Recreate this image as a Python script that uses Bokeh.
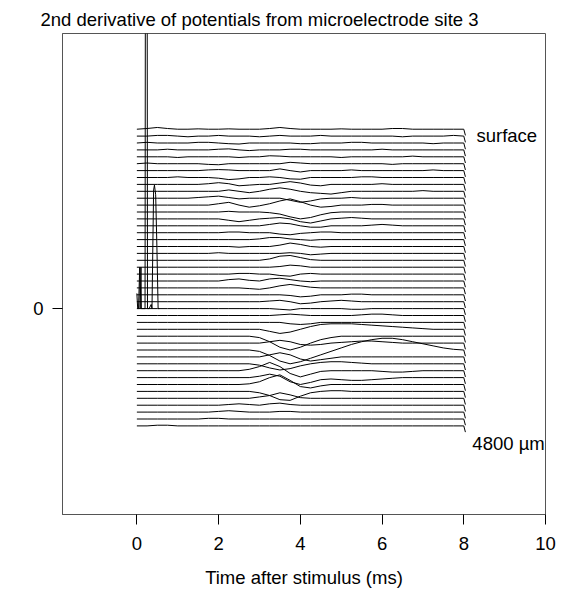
from bokeh.plotting import figure
from bokeh.models import ColumnDataSource, FixedTicker, Label, Range1d
from bokeh.embed import file_html
from bokeh.resources import INLINE

# ---------------- data ----------------
TITLE = "2nd derivative of potentials from microelectrode site 3"
X_LABEL = "Time after stimulus (ms)"
X_TICKS = [0, 2, 4, 6, 8, 10]
Y_TICKS = [0]
TOP_LABEL = "surface"
BOTTOM_LABEL = "4800 \u00b5m"

# sample times (ms) of every trace
TIMES = [0.0, 0.25, 0.5, 0.75, 1.0, 1.25, 1.5, 1.75, 2.0, 2.25, 2.5, 2.75,
         3.0, 3.25, 3.5, 3.75, 4.0, 4.25, 4.5, 4.75, 5.0, 5.25, 5.5, 5.75,
         6.0, 6.25, 6.5, 6.75, 7.0, 7.25, 7.5, 7.75, 8.0]
END_TIME = 8.04      # final short drop of every trace
END_DROP = -0.9

# baseline of each trace (surface first), in trace-spacing units
OFFSETS = [26, 25, 24, 23, 22, 21, 20, 19, 18, 17, 16, 15, 14, 13, 12, 11,
           10, 9, 8, 7, 6, 5, 4, 3, 2, 1, 0, -1, -2, -3, -4, -5, -6, -7,
           -8, -9, -10, -11, -12, -13, -14, -15, -16, -17]

# deflection of each trace around its baseline
TRACES = [
 [0,0.1,0.25,0.1,0,0,0.05,0,0,0.05,0,0,0,0.1,0.25,0.1,0,0,0,0,0.05,0,0,0,0,0.1,0.1,0,0,0,0,0,0],
 [0,0,0.1,0.1,0,-0.1,0,0,0.1,0,0,0,-0.1,0,0.1,0,0,0,0.1,0,0,0,0,0,0,0,-0.1,0,0,0,0,0.1,0],
 [0,0.1,0,0,0,0,0.1,0.1,0,-0.1,-0.15,0,0,0,0,0,-0.1,-0.1,0,0,0,0.1,0.1,0,0,0,0,0,0,-0.1,0,0,0],
 [0,0,0,0.1,0,0,0,0,0.1,0.15,0,-0.1,0,0,0,0.1,0.1,0,0,0,0,0,0,0,0.1,0,0,0,0,0,0,0,0],
 [0,0,0,0,-0.1,0,0,0,0,0,-0.1,0,0,0.15,0.1,0,0,0,0,0,-0.1,0,0,0,0,0,0,0.1,0,0,0,0,0],
 [0,0.1,0,0,0,0,0,-0.1,-0.15,0,0,0,0,0,0,0.2,0.1,0,0,0,0,0,0,0,0,-0.1,0,0,0,0,0,0,0],
 [0,0,0,0,0,0,0,0.1,0.15,0.1,0,0,0,0,0.25,0,-0.2,0,0,0,0,0.1,0,0,0,0,0,0,0,0.1,0,0,0],
 [0,0,0,0,0.1,0,0,0,-0.1,-0.3,-0.2,0,0,0.1,0,-0.2,-0.25,0,0,0,0,0,0.1,0.1,0,0,0,0,0,0,0,0,0],
 [0,0,0,0,0,0,0,0.1,0.25,0.1,-0.2,-0.1,0,0,0.2,0.4,0.2,-0.1,-0.2,0,0,0,0,0,0.1,0,0,0,0,0,0,0,0],
 [0,0,0,0,0,0,0,0,0,0.2,0,-0.2,0,0.3,0.5,0.3,0,-0.2,-0.3,-0.4,-0.2,0,0,0,0,0,0,0,0.1,0,0,0,0],
 [0,0,0,0,0,0,0.1,0.2,0.3,0.1,-0.1,0,0,0,0,-0.3,-0.6,-0.4,-0.1,0,0,0.1,0,0,0,0,0,0,0,0,0,0,0],
 [0,0,0,0,0,0,0,0,0.2,0.4,0,-0.3,-0.1,0.2,0.6,0.9,0.5,0,-0.3,-0.2,0,0,0,0.1,0.1,0,0,0,0,0,0,0,0],
 [0,0,0,0,0,0,0,0,0,0.1,0,0,0,-0.1,-0.3,-0.7,-1.0,-0.8,-0.4,-0.1,0,0,0,0,0,0,0,0,0,0,0,0,0],
 [0,0,0,0,0,0,0,0,0,-0.2,-0.4,-0.2,0,0.1,0.2,0,-0.4,-0.6,-0.3,0,0.1,0.2,0.1,0,0,0,0,0,0,0,0,0,0],
 [0,0,0,0,0,0,0,0,0,0,0,0,0,0.2,0.4,0.3,0,-0.2,-0.2,0,0,0,0,0.1,0.2,0.1,0,0,0,0,0,0,0],
 [0,0,0,0,0,0,0,0,0,0.1,0.1,0,0,0,-0.2,-0.3,-0.1,0,0.1,0.1,0,0,0,0,0,0,0,0,0,0,0,0,0],
 [0,0,0,0,0,0,0,0,0,0,0,0,0.1,0.3,0.3,0.1,0,-0.1,0,0,0,0,0,0,0,0,0,0,0,0,0,0,0],
 [0,0,0,0,0,0,0,0,0,0,-0.1,0,0,0,0.2,0.5,0.3,0,-0.1,0,0,0,0,0,0,0,0,0,0,0,0,0,0],
 [0,0,0,0,0,0,0,0,0.1,0,0,0,0,0,0,0.1,0,-0.2,-0.1,0,0,0,0,0,0,0,0,0,0,0,0,0,0],
 [0,0,0,0,0,0,0,0,0,0,0,0,0,0.2,0.6,0.7,0.4,0.1,0,0,0,0,0,0,0,0,0,0,0,0,0,0,0],
 [0,0,0,0,0,0,0,0,0,0,0,0,0,0,0.1,0.3,0.2,0,0,0,0,0,0,0,0,0,0,0,0,0,0,0,0],
 [0,0,0,0,0,0,0,0,0,0,0.1,0.1,0,0,-0.2,-0.3,0,0.1,0,0,0,0,0,0,0,0,0,0,0,0,0,0,0],
 [0,0,0,0,0,0,0,0,0,0.2,0.3,0.1,0,0.3,0.4,0.2,0,-0.1,0,0,0,0,0,0,0,0,0,0,0,0,0,0,0],
 [0,0,0,0,0,0,0,0,0,0,0,-0.1,-0.2,0,0.3,0.5,0.3,0.1,0,0,0,0,0,0,0,0,0,0,0,0,0,0,0],
 [0,0,0,0,0,0,0,0,0,0,0,0,0,0,0,-0.1,-0.3,-0.2,0,0,0,0.1,0.1,0,0,0,0,0,0,0,0,0,0],
 [0,0,0,0,0,0,0,0,0,0,0,0,0,0.1,0.2,0,-0.3,-0.2,0,0.1,0.2,0.1,0,0,0,0,0,0,0,0,0,0,0],
 [0,0,0,0,0,0,0,0,0,0,0,0,0,0,-0.1,-0.2,0,0,0,0,0,-0.1,-0.1,0,0,0,0,0,0,0,0,0,0],
 [0,0,0,0,0,0,0,0,0,0,0,0,0,0,0.1,0.2,0.1,0,0,0,0,0,0.1,0.2,0.2,0.1,0,0,0,0,0,0,0],
 [0,0,0,0,0,0,0,0,0,0,0,0,0,0,0,-0.2,-0.3,-0.2,0,0,0,0,0,0,0,0,0,0,0,0,0,0,0],
 [0,0,0,0,0,0,0,0,0,0,0,0,0,-0.3,-0.6,-0.4,0,0.4,0.7,0.8,0.8,0.8,0.7,0.6,0.5,0.4,0.3,0.2,0.1,0,0,0,0],
 [0,0,0,0,0,0,0,0,0,0,0,0,-0.2,-0.8,-1.6,-2.0,-1.6,-1.0,-0.5,-0.2,0,0,0,0,0,0,0,0,0,0,0,0,0],
 [0,0,0,0,0,0,0,0,0,0,0,0,0,0.2,0.4,0.2,-0.2,-0.3,-0.2,0,0.1,0.2,0.3,0.3,0.2,0.1,0,0,0,0,0,0,0],
 [0,0,0,0,0,0,0,0,0,0,0,0,-0.2,-0.8,-1.6,-2.0,-1.7,-1.2,-0.7,-0.2,0.3,0.8,1.2,1.5,1.7,1.7,1.5,1.2,0.9,0.6,0.3,0.1,0],
 [0,0,0,0,0,0,0,0,0,0,0,0,0,0.3,0.6,0.3,-0.3,-0.6,-0.4,-0.2,0,0,0,0,0,0,0,0,0,0,0,0,0],
 [0,0,0,0,0,0,0,0,0,0,0,0,-0.2,-0.6,-0.9,-0.7,-0.3,0,0.2,0.3,0.3,0.2,0.1,0,0,0,0,0,0,0,0,0,0],
 [0,0,0,0,0,0,0,0,0,0,0,0.2,0.6,1.2,0.6,-0.4,-0.9,-0.5,-0.1,0,0,0,0,0,-0.1,-0.2,-0.2,-0.1,0,0,0,0,0],
 [0,0,0,0,0,0,0,0,0,0,0,0,0.2,0.5,0.2,-0.6,-1.0,-0.7,-0.3,-0.2,-0.3,-0.4,-0.4,-0.3,-0.2,-0.1,0,0,0,0,0,0,0],
 [0,0,0,0,0,0,0,0,0,0,0,0.1,0.4,1.0,1.4,0.6,-0.3,-0.5,-0.2,0,0,0,0,0,0,0,0,0,0,0,0,0,0],
 [0,0,0,0,0,0,0,0,0,0,0,0,-0.2,-0.6,-1.2,-1.3,-0.7,-0.2,0,0.1,0.1,0,0,0,0,0,0,0,0,0,0,0,0],
 [0,0,0,0,0,0,0,0,0,0,0,0,0.2,0.4,0.8,0.5,0.1,0,0,0,0,0,0,0,0,0,0,0,0,0,0,0,0],
 [0,0,0,0,0,0,0,0,0,0.1,0.2,0.1,0,0.2,0.3,0.1,0,0,0,0,0,0,0,0,0,0,0,0,0,0,0,0,0],
 [0,0,0,0,0,0,0,0,0.1,0.2,0.1,0,0,0,0.1,0.1,0,0,0,0,0,0,0,0,0,0,0,0,0,0,0,0,0],
 [0,0,0,0,0,0,0,0.1,0.1,0,0,0,0,0,0,0,0,0,0,0,0,0,0,0,0,0,0,0,0,0,0,0,0],
 [0,0,0.1,0.1,0,0,0,0,0,0,0,0,0,0,0,0,0,0,0,0,0,0,0,0,0,0,0,0,0,0,0,0,0],
]

# stimulus artifact (drawn at baseline 0)
ARTIFACT_T = [0.0, 0.02, 0.04, 0.07, 0.08, 0.1, 0.11, 0.13, 0.2, 0.21, 0.25, 0.26,
              0.3, 0.35, 0.37, 0.41, 0.43, 0.46, 0.49, 0.52, 0.55]
ARTIFACT_V = [2.2, 0.0, 0.0, 6.0, 0.0, 6.0, 0.0, 0.0, 0.0, 60.0, 60.0, 0.0,
              0.0, 0.6, 0.0, 17.2, 17.9, 16.5, 9.0, 0.0, 0.0]

# ---------------- figure ----------------
FONT = "Liberation Sans"
FS = "18.5px"

p = figure(width=562, height=594, output_backend="svg", toolbar_location=None,
           x_range=Range1d(-1.82, 10.0), y_range=Range1d(-29.84, 39.87),
           min_border_left=62, min_border_right=17, min_border_top=33,
           min_border_bottom=80)
p.grid.visible = False
p.outline_line_color = "#555555"
p.outline_line_width = 1
p.background_fill_color = "white"
p.border_fill_color = "white"

p.title.text = TITLE
p.title.text_font = FONT
p.title.text_font_size = FS
p.title.text_font_style = "normal"
p.title.text_color = "black"
p.title.align = "left"
p.title.offset = -22
p.title.standoff = 7

xs = []
ys = []
for off, tr in zip(OFFSETS, TRACES):
    xs.append(list(TIMES) + [END_TIME])
    ys.append([off + v for v in tr] + [off + END_DROP])
src = ColumnDataSource(dict(xs=xs, ys=ys))
p.multi_line("xs", "ys", source=src, line_color="black", line_width=1)

p.line(ARTIFACT_T, ARTIFACT_V, line_color="black", line_width=1)

for ax in (p.xaxis[0], p.yaxis[0]):
    ax.axis_line_color = "#555555"
    ax.major_tick_line_color = "black"
    ax.major_tick_out = 10
    ax.major_tick_in = 0
    ax.minor_tick_out = 0
    ax.minor_tick_in = 0
    ax.major_label_text_font = FONT
    ax.major_label_text_font_size = FS
    ax.major_label_text_color = "black"
    ax.axis_label_text_font = FONT
    ax.axis_label_text_font_size = FS
    ax.axis_label_text_font_style = "normal"
    ax.axis_label_text_color = "black"

p.xaxis.ticker = FixedTicker(ticks=X_TICKS)
p.yaxis.ticker = FixedTicker(ticks=Y_TICKS)
p.xaxis.axis_label = X_LABEL
p.xaxis.major_label_standoff = 12
p.xaxis.axis_label_standoff = 14
p.yaxis.major_label_standoff = 9

p.add_layout(Label(x=8.31, y=25.1, text=TOP_LABEL, text_font=FONT,
                   text_font_size=FS, text_color="black",
                   text_baseline="alphabetic"))
p.add_layout(Label(x=8.21, y=-19.5, text=BOTTOM_LABEL, text_font=FONT,
                   text_font_size=FS, text_color="black",
                   text_baseline="alphabetic"))

open("out.html", "w").write(file_html(p, INLINE))
